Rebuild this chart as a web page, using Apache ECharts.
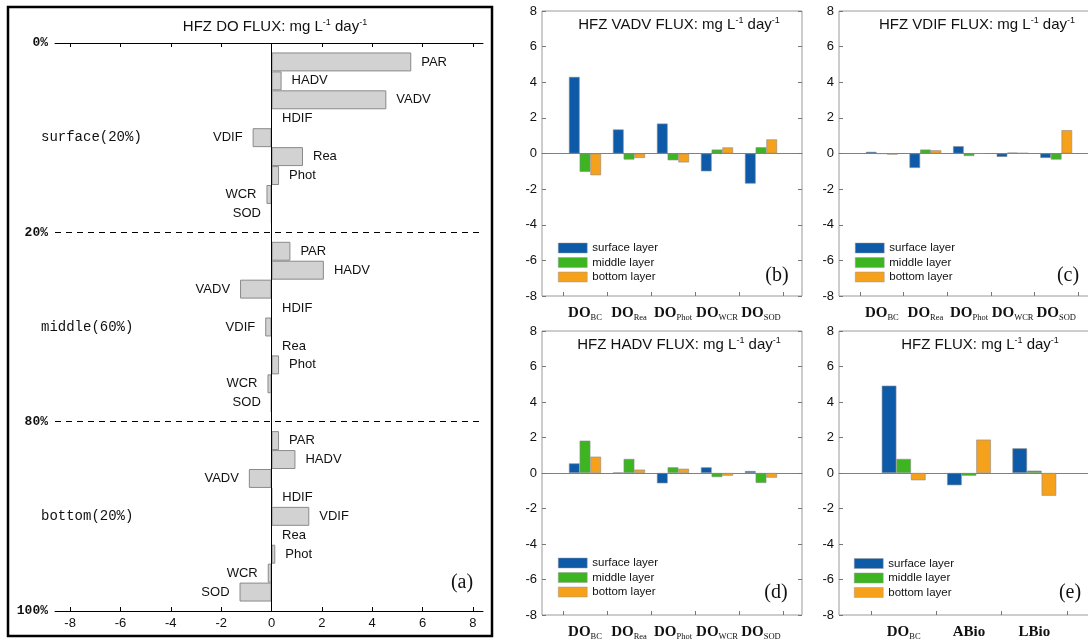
<!DOCTYPE html>
<html><head><meta charset="utf-8">
<script src="https://cdn.jsdelivr.net/npm/echarts@6/dist/echarts.min.js"></script>
<style>html,body{margin:0;padding:0;background:#fff}#c{width:1088px;height:639px}</style>
</head><body><div id="c"></div>
<script>
// ---------- Panel (a): DO flux terms per layer ----------
const termNames = ['PAR','HADV','VADV','HDIF','VDIF','Rea','Phot','WCR','SOD'];
const surfaceFlux = [5.55, 0.40, 4.56, 0.00, -0.75, 1.25, 0.30, -0.20, -0.01];
const middleFlux  = [0.75, 2.08, -1.25, 0.00, -0.25, 0.00, 0.30, -0.16, -0.02];
const bottomFlux  = [0.30, 0.95, -0.90, 0.02, 1.50, 0.00, 0.15, -0.15, -1.27];
const depthLabels = ['0%','20%','80%','100%'];
const sectionLabels = ['surface(20%)','middle(60%)','bottom(20%)'];
const fluxTicks = [-8,-6,-4,-2,0,2,4,6,8];

// ---------- Panels (b)-(e) ----------
const layerNames = ['surface layer','middle layer','bottom layer'];
const doTerms = ['DO_BC','DO_Rea','DO_Phot','DO_WCR','DO_SOD'];
const vadvSurface = [4.30, 1.35, 1.68, -1.00, -1.69];
const vadvMiddle  = [-1.03, -0.34, -0.38, 0.22, 0.35];
const vadvBottom  = [-1.22, -0.25, -0.50, 0.34, 0.79];
const vdifSurface = [0.09, -0.81, 0.41, -0.19, -0.25];
const vdifMiddle  = [-0.01, 0.22, -0.14, 0.05, -0.34];
const vdifBottom  = [-0.06, 0.18, 0.00, 0.03, 1.31];
const hadvSurface = [0.54, 0.02, -0.58, 0.32, 0.11];
const hadvMiddle  = [1.82, 0.79, 0.32, -0.23, -0.56];
const hadvBottom  = [0.92, 0.19, 0.24, -0.15, -0.26];
const totalCats    = ['DO_BC','ABio','LBio'];
const totalSurface = [4.92, -0.69, 1.39];
const totalMiddle  = [0.79, -0.15, 0.13];
const totalBottom  = [-0.41, 1.88, -1.28];

const SANS = 'Liberation Sans, Arial, sans-serif';
const SERIF = 'Liberation Serif, Times New Roman, serif';
const MONO = 'Liberation Mono, Courier New, monospace';
const layerColors = ['#0c5aa8', '#3cb521', '#f5a11c'];

const grids = [], xAxes = [], yAxes = [], series = [], legends = [], graphics = [];

function titleText(x, y, head) {
  graphics.push({
    type: 'text', x: x, y: y, silent: true,
    style: {
      text: '{t|' + head + '}{p|-1}{t| day}{p|-1}',
      align: 'center', verticalAlign: 'middle',
      rich: {
        t: { fontSize: 15, fontFamily: SANS, fill: '#111', lineHeight: 18 },
        p: { fontSize: 9, fontFamily: SANS, fill: '#111', lineHeight: 11, verticalAlign: 'top' }
      }
    }
  });
}
function panelLabel(x, y, t) {
  graphics.push({ type: 'text', x: x, y: y, silent: true,
    style: { text: t, align: 'center', verticalAlign: 'middle', fontSize: 20, fontFamily: SERIF, fill: '#111' } });
}

// ---------- build panel (a) ----------
const aCats = [], aVals = [], aTerm = [];
aCats.push('b0'); aVals.push(null); aTerm.push('');
[surfaceFlux, middleFlux, bottomFlux].forEach((arr, s) => {
  arr.forEach((v, i) => { aCats.push(s + '-' + termNames[i]); aVals.push(v); aTerm.push(termNames[i]); });
  aCats.push('b' + (s + 1)); aVals.push(null); aTerm.push('');
});
const aTop = 43, aSpan = 568;
const slotH = aSpan / (aCats.length - 1);
const aMin = -8.6, aMax = 8.4;

grids.push({ left: 55, width: 428, top: aTop - slotH / 2, height: aSpan + slotH, outerBoundsMode: 'none' }); // 0 bars
grids.push({ left: 55, width: 428, top: aTop, height: aSpan, outerBoundsMode: 'none' });                  // 1 axes

xAxes.push({ gridIndex: 0, type: 'value', min: aMin, max: aMax, show: false });
const aAxisCommon = {
  gridIndex: 1, type: 'value', min: aMin, max: aMax,
  axisLine: { show: true, onZero: false, lineStyle: { color: '#000', width: 1 } },
  axisTick: { show: true, inside: true, length: 4, customValues: fluxTicks, lineStyle: { color: '#000' } },
  splitLine: { show: false }
};
xAxes.push(Object.assign({}, aAxisCommon, { position: 'bottom',
  axisLabel: { show: true, customValues: fluxTicks, fontSize: 13, fontFamily: SANS, color: '#111', margin: 6 } }));
xAxes.push(Object.assign({}, aAxisCommon, { position: 'top', axisLabel: { show: false } }));

yAxes.push({ gridIndex: 0, type: 'category', data: aCats, inverse: true, position: 'left',
  axisLine: { show: false }, axisTick: { show: false }, splitLine: { show: false },
  axisLabel: { interval: 0, margin: 7, fontFamily: MONO, fontSize: 13, fontWeight: 'bold', color: '#111',
    formatter: (v) => v.charAt(0) === 'b' && v.length === 2 ? depthLabels[+v.charAt(1)] : '' } });
yAxes.push({ gridIndex: 0, type: 'category', data: aCats, inverse: true, position: 'left',
  axisLine: { show: false }, axisTick: { show: false }, splitLine: { show: false },
  axisLabel: { interval: 0, margin: 14, align: 'left', fontFamily: MONO, fontSize: 14, color: '#111',
    formatter: (v, idx) => (idx % 10 === 5 ? sectionLabels[(idx - 5) / 10] : '') } });
yAxes.push({ gridIndex: 1, type: 'value', min: 0, max: 1, show: false });

series.push({
  type: 'bar', name: 'DO flux', xAxisIndex: 0, yAxisIndex: 0, barCategoryGap: '0%',
  itemStyle: { color: '#d2d2d2', borderColor: '#8a8a8a', borderWidth: 1 },
  label: { show: true, distance: 10, fontSize: 13, fontFamily: SANS, color: '#111',
    formatter: (p) => aTerm[p.dataIndex] },
  data: aVals.map(v => v === null ? '-' : { value: v, label: { position: v < 0 ? 'left' : 'right' } }),
  markLine: {
    silent: true, symbol: ['none', 'none'], label: { show: false }, animation: false,
    data: [
      [{ coord: [0, aCats[0]], lineStyle: { type: 'solid', color: '#000', width: 1 } },
       { coord: [0, aCats[aCats.length - 1]] }],
      { yAxis: aCats[10], lineStyle: { type: [6, 5], color: '#000', width: 1 } },
      { yAxis: aCats[20], lineStyle: { type: [6, 5], color: '#000', width: 1 } }
    ]
  }
});
titleText(275, 27, 'HFZ DO FLUX: mg L');
panelLabel(462, 583, '(a)');
graphics.push({ type: 'rect', silent: true, shape: { x: 8, y: 7, width: 484, height: 629 },
  style: { fill: 'none', stroke: '#000', lineWidth: 2.5 } });

// ---------- panels (b)-(e) ----------
function catFormatter(v) {
  const parts = v.split('_');
  return parts[1] ? '{d|' + parts[0] + '}{s|' + parts[1] + '}' : '{d|' + parts[0] + '}';
}
function addPanel(cfg) {
  const og = grids.length;
  grids.push({ left: cfg.left, top: cfg.top, width: 260, height: cfg.h, show: true,
    borderColor: '#9a9a9a', borderWidth: 1, backgroundColor: 'transparent', outerBoundsMode: 'none' });
  const ig = grids.length;
  grids.push({ left: cfg.innerLeft, top: cfg.top, width: cfg.innerWidth, height: cfg.h, outerBoundsMode: 'none' });

  xAxes.push({ gridIndex: og, type: 'value', min: 0, max: 1,
    axisLine: { show: true, onZero: true, lineStyle: { color: '#808080', width: 1 } },
    axisTick: { show: false }, axisLabel: { show: false }, splitLine: { show: false } });
  const tickStyle = { show: true, inside: true, length: 4, lineStyle: { color: '#777' } };
  yAxes.push({ gridIndex: og, type: 'value', min: -8, max: 8, interval: 2, position: 'left',
    axisLine: { show: false }, axisTick: tickStyle, splitLine: { show: false },
    axisLabel: { fontSize: 13, fontFamily: SANS, color: '#111', margin: 5 } });
  yAxes.push({ gridIndex: og, type: 'value', min: -8, max: 8, interval: 2, position: 'right',
    axisLine: { show: false }, axisTick: tickStyle, splitLine: { show: false }, axisLabel: { show: false } });

  const ix = xAxes.length;
  xAxes.push({ gridIndex: ig, type: 'category', data: cfg.cats, position: 'bottom',
    axisLine: { show: false, onZero: false }, axisTick: tickStyle, splitLine: { show: false },
    axisLabel: { interval: 0, margin: 8, formatter: catFormatter,
      rich: {
        d: { fontSize: 15, fontWeight: 'bold', fontFamily: SERIF, color: '#111', lineHeight: 18 },
        s: { fontSize: 8.5, fontFamily: SERIF, color: '#111', lineHeight: 16, verticalAlign: 'bottom' }
      } } });
  const iy = yAxes.length;
  yAxes.push({ gridIndex: ig, type: 'value', min: -8, max: 8, show: false });

  cfg.data.forEach((arr, k) => {
    series.push({ type: 'bar', name: layerNames[k], xAxisIndex: ix, yAxisIndex: iy, data: arr,
      barGap: '0%', barCategoryGap: cfg.gap,
      itemStyle: { color: layerColors[k], borderColor: '#8c8c8c', borderWidth: 0.6 } });
  });
  legends.push({ orient: 'vertical', left: cfg.legLeft, top: cfg.legTop, padding: 0,
    itemWidth: 29, itemHeight: 10, itemGap: 1.5, icon: 'rect', data: layerNames,
    itemStyle: { borderWidth: 0.5, borderColor: '#9a9a9a' },
    textStyle: { fontSize: 11.5, fontFamily: SANS, color: '#111', lineHeight: 13 } });
  titleText(cfg.titleX, cfg.titleY, cfg.title);
  panelLabel(cfg.labX, cfg.labY, cfg.lab);
}

addPanel({ left: 542, top: 11, h: 285, innerLeft: 563, innerWidth: 220, cats: doTerms, gap: '27%',
  data: [vadvSurface, vadvMiddle, vadvBottom], legLeft: 558, legTop: 241.5,
  title: 'HFZ VADV FLUX: mg L', titleX: 679, titleY: 25, lab: '(b)', labX: 777, labY: 276 });
addPanel({ left: 839, top: 11, h: 285, innerLeft: 860, innerWidth: 218, cats: doTerms, gap: '27%',
  data: [vdifSurface, vdifMiddle, vdifBottom], legLeft: 855, legTop: 241.5,
  title: 'HFZ VDIF FLUX: mg L', titleX: 977, titleY: 25, lab: '(c)', labX: 1068, labY: 276 });
addPanel({ left: 542, top: 331, h: 284, innerLeft: 563, innerWidth: 220, cats: doTerms, gap: '27%',
  data: [hadvSurface, hadvMiddle, hadvBottom], legLeft: 558, legTop: 556.5,
  title: 'HFZ HADV FLUX: mg L', titleX: 679, titleY: 345, lab: '(d)', labX: 776, labY: 593 });
addPanel({ left: 839, top: 331, h: 284, innerLeft: 871, innerWidth: 196, cats: totalCats, gap: '33%',
  data: [totalSurface, totalMiddle, totalBottom], legLeft: 854, legTop: 557,
  title: 'HFZ FLUX: mg L', titleX: 980, titleY: 345, lab: '(e)', labX: 1070, labY: 593 });

const chart = echarts.init(document.getElementById('c'), null, { renderer: 'canvas' });
chart.setOption({
  animation: false,
  backgroundColor: '#fff',
  grid: grids, xAxis: xAxes, yAxis: yAxes, series: series, legend: legends,
  graphic: { elements: graphics }
});
</script></body></html>
